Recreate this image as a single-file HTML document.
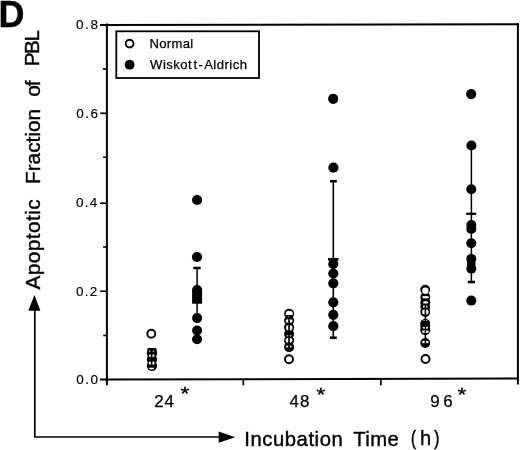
<!DOCTYPE html>
<html><head><meta charset="utf-8">
<style>
html,body{margin:0;padding:0;background:#fff;}
body{width:520px;height:450px;overflow:hidden;}
svg{display:block;}
text{font-family:"Liberation Sans",Arial,Helvetica,sans-serif;fill:#000;}
</style></head>
<body>
<svg width="520" height="450" viewBox="0 0 520 450">
<rect width="520" height="450" fill="#fff"/>
<text x="-1.55" y="27.18" font-size="36.00" font-weight="bold" stroke="#000" stroke-width="0.3">D</text>
<text x="76.27" y="384.11" font-size="13.50" textLength="21.76" lengthAdjust="spacing" stroke="#000" stroke-width="0.15">0.0</text>
<text x="76.07" y="296.13" font-size="13.50" textLength="21.12" lengthAdjust="spacing" stroke="#000" stroke-width="0.15">0.2</text>
<text x="76.03" y="207.06" font-size="13.50" textLength="21.35" lengthAdjust="spacing" stroke="#000" stroke-width="0.15">0.4</text>
<text x="76.17" y="118.24" font-size="13.50" textLength="21.91" lengthAdjust="spacing" stroke="#000" stroke-width="0.15">0.6</text>
<text x="75.88" y="29.10" font-size="13.50" textLength="22.15" lengthAdjust="spacing" stroke="#000" stroke-width="0.15">0.8</text>
<text x="154.15" y="407.12" font-size="16.90" textLength="19.87" lengthAdjust="spacing" stroke="#000" stroke-width="0.25">24</text>
<text x="180.62" y="400.02" font-size="18.50" textLength="8.82" lengthAdjust="spacingAndGlyphs" stroke="#000" stroke-width="0.35">*</text>
<text x="289.57" y="407.07" font-size="16.90" textLength="19.94" lengthAdjust="spacing" stroke="#000" stroke-width="0.25">48</text>
<text x="316.64" y="401.24" font-size="18.50" textLength="8.73" lengthAdjust="spacingAndGlyphs" stroke="#000" stroke-width="0.35">*</text>
<text x="430.28" y="407.04" font-size="16.90" textLength="22.38" lengthAdjust="spacing" stroke="#000" stroke-width="0.25">96</text>
<text x="457.47" y="401.20" font-size="18.50" textLength="8.83" lengthAdjust="spacingAndGlyphs" stroke="#000" stroke-width="0.35">*</text>
<text x="149.40" y="48.00" font-size="13.10" textLength="43.75" lengthAdjust="spacing" stroke="#000" stroke-width="0.25">Normal</text>
<text x="150.10" y="68.99" font-size="13.10" letter-spacing="0.45" stroke="#000" stroke-width="0.25">Wiskot<tspan x="193.60">t</tspan><tspan x="198.60">-</tspan><tspan x="204.20">Aldrich</tspan></text>
<text x="244.28" y="446.20" font-size="20.30" textLength="98.50" lengthAdjust="spacing" stroke="#000" stroke-width="0.4">Incubation</text>
<text x="353.21" y="446.20" font-size="20.30" textLength="45.49" lengthAdjust="spacing" stroke="#000" stroke-width="0.4">Time</text>
<text x="410.98" y="445.14" font-size="20.30" textLength="4.90" lengthAdjust="spacingAndGlyphs" stroke="#000" stroke-width="0.55">(</text>
<text x="419.94" y="445.07" font-size="19.60" textLength="11.16" lengthAdjust="spacingAndGlyphs" stroke="#000" stroke-width="0.3">h</text>
<text x="434.18" y="445.08" font-size="20.30" textLength="5.16" lengthAdjust="spacingAndGlyphs" stroke="#000" stroke-width="0.55">)</text>
<g transform="rotate(-90)">
<text x="-289.53" y="40.06" font-size="20.80" textLength="90.09" lengthAdjust="spacing" stroke="#000" stroke-width="0.4">Apoptotic</text>
<text x="-184.08" y="40.22" font-size="20.80" textLength="75.24" lengthAdjust="spacing" stroke="#000" stroke-width="0.4">Fraction</text>
<text x="-96.87" y="40.08" font-size="20.80" textLength="16.50" lengthAdjust="spacing" stroke="#000" stroke-width="0.4">of</text>
<text x="-66.17" y="39.17" font-size="20.80" textLength="36.16" lengthAdjust="spacing" stroke="#000" stroke-width="0.4">PBL</text>
</g>
<!-- frame -->
<g stroke="#000" stroke-width="2" fill="none">
<line x1="106.9" y1="23.5" x2="106.9" y2="385.3"/>
<line x1="100" y1="24.9" x2="519" y2="24.2"/>
<line x1="517.9" y1="23.3" x2="517.9" y2="384.5"/>
<line x1="100" y1="379.5" x2="519" y2="378.6"/>
<line x1="100.2" y1="291.2" x2="107" y2="291.2" stroke-width="1.7"/>
<line x1="100.2" y1="203.2" x2="107" y2="203.2" stroke-width="1.7"/>
<line x1="100.2" y1="113.3" x2="107" y2="113.3" stroke-width="1.7"/>
<line x1="103.2" y1="335.5" x2="107" y2="335.5" stroke-width="1.6"/>
<line x1="103.1" y1="247" x2="107" y2="247" stroke-width="1.6"/>
<line x1="103.1" y1="157.2" x2="107" y2="157.2" stroke-width="1.6"/>
<line x1="102.9" y1="69" x2="107" y2="69" stroke-width="1.7"/>
<line x1="243.3" y1="379" x2="243.3" y2="385.4" stroke-width="1.7"/>
<line x1="380.8" y1="379" x2="380.8" y2="385.4" stroke-width="1.7"/>
</g>
<!-- legend -->
<rect x="116.3" y="31.3" width="142.7" height="46.7" fill="none" stroke="#000" stroke-width="1.8"/>
<circle cx="129.6" cy="43.6" r="3.9" fill="#fff" stroke="#000" stroke-width="1.9"/>
<circle cx="129.6" cy="64.7" r="4.9" fill="#000"/>
<!-- arrows -->
<polyline points="34.8,310 34.8,437 220,437" stroke="#000" stroke-width="1.7" fill="none"/>
<polygon points="34.4,295 28.3,310.7 40.4,310.7" fill="#000"/>
<polygon points="235.2,437.2 218.7,431.5 218.7,442.8" fill="#000"/>
<!-- Normal 24h -->
<circle cx="151.3" cy="333.7" r="4" fill="#fff" stroke="#000" stroke-width="1.9"/>
<rect x="147.4" y="348.1" width="9.1" height="6" rx="1.2" fill="#000"/>
<g fill="#000"><circle cx="151.95" cy="353.3" r="5.15"/><circle cx="151.95" cy="359.5" r="5.15"/><circle cx="151.95" cy="365.75" r="5.15"/></g>
<g fill="#fff">
<ellipse cx="149.6" cy="351.2" rx="0.8" ry="0.6"/>
<ellipse cx="153.4" cy="351.2" rx="0.8" ry="0.6"/>
<ellipse cx="151.65" cy="355.7" rx="2.95" ry="1.45"/>
<ellipse cx="151.65" cy="363.05" rx="2.95" ry="1.9"/>
</g>
<line x1="151.6" y1="348" x2="151.6" y2="366" stroke="#000" stroke-width="1.7"/>
<path d="M149,367.7 A2.65,1.9 0 0 0 154.3,367.7 Z" fill="#fff"/>
<!-- WA 24h -->
<g fill="#000">
<circle cx="197.1" cy="200" r="5.1"/>
<circle cx="197" cy="257" r="5.1"/>
<circle cx="197.1" cy="290" r="5"/>
<rect x="192.1" y="290" width="10" height="13.7"/>
<circle cx="197.1" cy="318.1" r="5"/>
<circle cx="197.1" cy="330.5" r="5"/>
<circle cx="197.1" cy="339.3" r="5"/>
</g>
<g stroke="#000" stroke-width="2">
<line x1="193.3" y1="268" x2="200.7" y2="268" stroke-width="2.5"/>
<line x1="197.1" y1="268" x2="197.1" y2="318" stroke-width="1.5"/>
</g>
<!-- Normal 48h -->
<circle cx="289.1" cy="313.8" r="5" fill="#000"/>
<g fill="#000"><circle cx="289.1" cy="320.5" r="5"/><circle cx="289.1" cy="327.4" r="5"/><circle cx="289.1" cy="334" r="5"/><circle cx="289.1" cy="340.5" r="5"/></g>
<circle cx="289.1" cy="347.1" r="5" fill="#000"/>
<g fill="#fff">
<ellipse cx="289.1" cy="320.95" rx="3.4" ry="1.85"/>
<ellipse cx="289.25" cy="327.8" rx="3.25" ry="2.8"/>
<ellipse cx="289.05" cy="335.8" rx="2.95" ry="0.6"/>
<ellipse cx="289.0" cy="340.25" rx="3.4" ry="2.55"/>
<rect x="286" y="345.7" width="5.6" height="1.6"/>
</g>
<line x1="289.05" y1="315" x2="289.05" y2="350" stroke="#000" stroke-width="1.7"/>
<path d="M285.7,315 L285.7,313.7 A3.55,3 0 0 1 292.8,313.7 L292.8,315 Z" fill="#fff"/>
<ellipse cx="288.9" cy="316.3" rx="1" ry="0.35" fill="#fff"/>
<circle cx="289" cy="359.3" r="4" fill="#fff" stroke="#000" stroke-width="1.9"/>
<!-- WA 48h -->
<g fill="#000">
<circle cx="333.2" cy="98.8" r="5.1"/>
<circle cx="333.4" cy="167.7" r="5.1"/>
<circle cx="333.3" cy="264" r="5.1"/>
<circle cx="333.3" cy="273.5" r="5.1"/>
<circle cx="333.3" cy="283.3" r="5.1"/>
<circle cx="333.3" cy="302.3" r="5.1"/>
<circle cx="333.3" cy="314.8" r="5.1"/>
<circle cx="333.3" cy="326.2" r="5.1"/>
</g>
<g stroke="#000" stroke-width="2">
<line x1="329.9" y1="181.2" x2="336.8" y2="181.2" stroke-width="2.5"/>
<line x1="333.3" y1="181.2" x2="333.3" y2="337.7" stroke-width="1.6"/>
<line x1="329.9" y1="337.7" x2="336.8" y2="337.7" stroke-width="2.5"/>
<line x1="328" y1="259.3" x2="338.5" y2="259.3" stroke-width="2.6"/>
</g>
<!-- Normal 96h -->
<circle cx="425.2" cy="289.6" r="4.9" fill="#000"/>
<g fill="#000"><circle cx="425.25" cy="297" r="4.9"/><circle cx="425.25" cy="302.3" r="4.9"/><circle cx="425.25" cy="306.8" r="4.9"/></g>
<circle cx="425.25" cy="312" r="4.9" fill="#000"/>
<circle cx="425.25" cy="323.8" r="4.9" fill="#000"/>
<circle cx="425.25" cy="327" r="4.9" fill="#000"/>
<circle cx="425.25" cy="330.3" r="4.9" fill="#000"/>
<circle cx="425.25" cy="343" r="4.9" fill="#000"/>
<g fill="#fff">
<rect x="423" y="305.6" width="4.4" height="2"/>
<ellipse cx="425.4" cy="312" rx="3.2" ry="2.8"/>
<ellipse cx="425.3" cy="320.5" rx="2.2" ry="0.6"/>
<ellipse cx="425.45" cy="327.85" rx="2.95" ry="1.1"/>
<ellipse cx="425.4" cy="331.65" rx="3.4" ry="1.45"/>
<ellipse cx="425.4" cy="342" rx="3.4" ry="1.3"/>
</g>
<line x1="425.4" y1="304" x2="425.4" y2="346" stroke="#000" stroke-width="1.6"/>
<g fill="#fff">
<ellipse cx="425.4" cy="290.8" rx="3.2" ry="3.2"/>
<ellipse cx="425.6" cy="297.2" rx="3.4" ry="1.2"/>
<ellipse cx="425.6" cy="302.4" rx="2.6" ry="1.2"/>
</g>
<line x1="420.5" y1="323.5" x2="430" y2="323.5" stroke="#000" stroke-width="2"/>
<circle cx="425.5" cy="359" r="4" fill="#fff" stroke="#000" stroke-width="1.9"/>
<!-- WA 96h -->
<g fill="#000">
<circle cx="471.2" cy="94.1" r="5.1"/>
<circle cx="471.4" cy="145.5" r="5.1"/>
<circle cx="471.3" cy="189.2" r="5"/>
<circle cx="471.3" cy="225" r="5"/>
<circle cx="471.3" cy="229" r="5"/>
<circle cx="471.3" cy="243.2" r="5"/>
<circle cx="471.3" cy="258.9" r="5"/>
<ellipse cx="471.3" cy="263.9" rx="4.3" ry="4"/>
<circle cx="471.3" cy="268.8" r="5"/>
<circle cx="471.3" cy="300.6" r="5"/>
</g>
<g stroke="#000" stroke-width="2">
<line x1="471.4" y1="146" x2="471.4" y2="282" stroke-width="1.5"/>
<line x1="467.8" y1="282" x2="475" y2="282" stroke-width="2.5"/>
<line x1="466.2" y1="213.8" x2="476.2" y2="213.8" stroke-width="2.3"/>
</g>

</svg>
</body></html>
